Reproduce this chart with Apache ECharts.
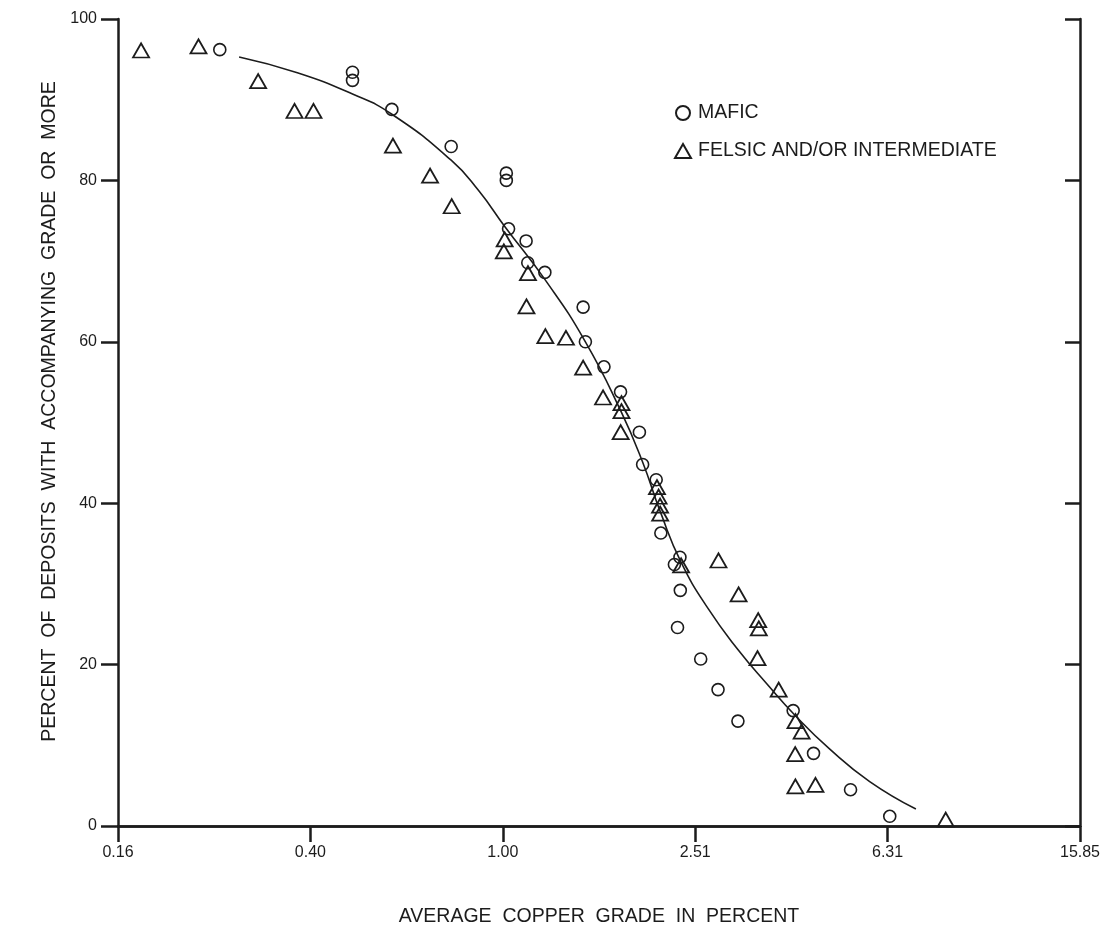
<!DOCTYPE html>
<html>
<head>
<meta charset="utf-8">
<title>Average copper grade</title>
<script src="https://cdn.jsdelivr.net/npm/echarts@6/dist/echarts.min.js"></script>
<style>
  html, body { margin: 0; padding: 0; background: #ffffff; }
  #chart { width: 1109px; height: 938px; }
</style>
</head>
<body>
<div id="chart"></div>
<script>
// Grade axis: logarithmic, one tick every 0.4 decade (0.16 ... 15.85)
const gradeTickLabels = ['0.16', '0.40', '1.00', '2.51', '6.31', '15.85'];
const pctTickLabels = ['0', '20', '40', '60', '80', '100'];

// Mafic deposits: average Cu grade (%) and percent of deposits with that grade or more
const maficGrade = [0.258, 0.487, 0.487, 0.588, 0.781, 1.017, 1.017, 1.028, 1.118, 1.127,
                    1.223, 1.469, 1.485, 1.623, 1.757, 1.923, 1.953, 2.084, 2.131, 2.335,
                    2.274, 2.339, 2.308, 2.579, 2.802, 3.082, 4.015, 4.426, 5.284, 6.375];
const maficPct   = [96.2, 93.4, 92.4, 88.8, 84.2, 80.9, 80.0, 74.0, 72.5, 69.8,
                    68.6, 64.3, 60.0, 56.9, 53.8, 48.8, 44.8, 42.9, 36.3, 33.3,
                    32.4, 29.2, 24.6, 20.7, 16.9, 13.0, 14.3, 9.0, 4.5, 1.2];

// Felsic and/or intermediate deposits
const felsicGrade = [0.177, 0.233, 0.310, 0.369, 0.404, 0.591, 0.706, 0.783, 1.009, 1.005,
                     1.128, 1.120, 1.226, 1.353, 1.469, 1.616, 1.765, 1.765, 1.758, 2.092,
                     2.108, 2.123, 2.124, 2.348, 2.808, 3.092, 3.396, 3.406, 3.385, 3.746,
                     4.060, 4.181, 4.054, 4.058, 4.467, 8.333];
const felsicPct   = [96.1, 96.6, 92.3, 88.6, 88.6, 84.3, 80.6, 76.8, 72.7, 71.2,
                     68.5, 64.4, 60.7, 60.5, 56.8, 53.1, 52.4, 51.4, 48.8, 42.0,
                     40.8, 39.7, 38.7, 32.3, 32.9, 28.7, 25.5, 24.5, 20.8, 16.9,
                     13.0, 11.7, 8.9, 4.9, 5.1, 0.8];

// Fitted grade curve
const curveGrade = [0.283, 0.374, 0.487, 0.588, 0.781, 0.889, 1.012, 1.224, 1.485,
                    1.760, 1.950, 2.130, 2.347, 2.675, 3.093, 3.542, 4.054, 4.778, 5.791, 7.225];
const curvePct   = [95.3, 93.35, 90.7, 88.2, 82.5, 78.8, 74.2, 67.7, 60.0,
                    51.4, 45.2, 38.8, 32.7, 26.9, 21.75, 17.6, 13.7, 9.55, 5.5, 2.1];

const INK = '#1c1c1c';
const FONT = '"Liberation Sans", Arial, Helvetica, sans-serif';
const STEP = Math.pow(10, 0.4);           // log base = one tick interval
const X_MIN = Math.pow(STEP, -2);
const X_MAX = Math.pow(STEP, 3);

const pairs = (xs, ys) => xs.map((x, i) => [x, ys[i]]);
const gradeLabel = v => {
  const k = Math.round(Math.log(v) / Math.log(STEP)) + 2;
  return gradeTickLabels[k] !== undefined ? gradeTickLabels[k] : '';
};
const pctLabel = v => pctTickLabels[Math.round(v / 20)];

const xBase = {
  type: 'log', logBase: STEP, min: X_MIN, max: X_MAX,
  splitLine: { show: false }, minorTick: { show: false },
  axisLine: { show: true, lineStyle: { color: INK, width: 2.5 } }
};
const yBase = {
  type: 'value', min: 0, max: 100, interval: 20,
  splitLine: { show: false },
  axisLine: { show: true, lineStyle: { color: INK, width: 2.5 } }
};

const chart = echarts.init(document.getElementById('chart'), null, { renderer: 'canvas' });
chart.setOption({
  backgroundColor: '#ffffff',
  animation: false,
  textStyle: { fontFamily: FONT, color: INK },
  grid: { left: 118, right: 29, top: 19, bottom: 112, containLabel: false },
  legend: {
    orient: 'vertical', left: 669, top: 98, itemGap: 18,
    itemWidth: 16, itemHeight: 14,
    data: ['MAFIC', 'FELSIC AND/OR INTERMEDIATE'],
    textStyle: { fontFamily: FONT, fontSize: 19.5, color: INK, padding: [0, 0, 0, 2] },
    selectedMode: false
  },
  xAxis: [
    Object.assign({}, xBase, {
      position: 'bottom',
      name: 'AVERAGE  COPPER  GRADE  IN  PERCENT',
      nameLocation: 'middle', nameGap: 81,
      nameTextStyle: { fontFamily: FONT, fontSize: 19.5, color: INK },
      axisTick: { show: true, inside: false, length: 16, lineStyle: { color: INK, width: 2.5 } },
      axisLabel: { show: true, margin: 19, fontSize: 16, color: INK, fontFamily: FONT, formatter: gradeLabel }
    }),
    Object.assign({}, xBase, {
      position: 'top',
      axisTick: { show: true, inside: true, length: 15, lineStyle: { color: INK, width: 2.5 } },
      axisLabel: { show: false }
    })
  ],
  yAxis: [
    Object.assign({}, yBase, {
      position: 'left',
      name: 'PERCENT  OF  DEPOSITS  WITH  ACCOMPANYING  GRADE  OR  MORE',
      nameLocation: 'middle', nameGap: 52,
      nameTextStyle: { fontFamily: FONT, fontSize: 19.5, color: INK, padding: [0, 0, 0, 22] },
      axisTick: { show: true, inside: false, length: 17, lineStyle: { color: INK, width: 2.5 } },
      axisLabel: { show: true, margin: 21, fontSize: 16, color: INK, fontFamily: FONT, formatter: pctLabel }
    }),
    Object.assign({}, yBase, {
      position: 'right',
      axisTick: { show: true, inside: true, length: 15, lineStyle: { color: INK, width: 2.5 } },
      axisLabel: { show: false }
    })
  ],
  series: [
    {
      name: 'MAFIC', type: 'scatter', xAxisIndex: 0, yAxisIndex: 0,
      symbol: 'circle', symbolSize: 12,
      itemStyle: { color: 'rgba(255,255,255,0)', borderColor: INK, borderWidth: 1.6, opacity: 1 },
      data: pairs(maficGrade, maficPct), z: 3
    },
    {
      name: 'FELSIC AND/OR INTERMEDIATE', type: 'scatter', xAxisIndex: 0, yAxisIndex: 0,
      symbol: 'triangle', symbolSize: [16, 14],
      itemStyle: { color: 'rgba(255,255,255,0)', borderColor: INK, borderWidth: 1.8, opacity: 1 },
      data: pairs(felsicGrade, felsicPct), z: 3
    },
    {
      name: 'curve', type: 'line', xAxisIndex: 0, yAxisIndex: 0,
      smooth: 0.5, symbol: 'none', showSymbol: false,
      lineStyle: { color: INK, width: 1.6 },
      data: pairs(curveGrade, curvePct), z: 2
    }
  ]
});
</script>
</body>
</html>
